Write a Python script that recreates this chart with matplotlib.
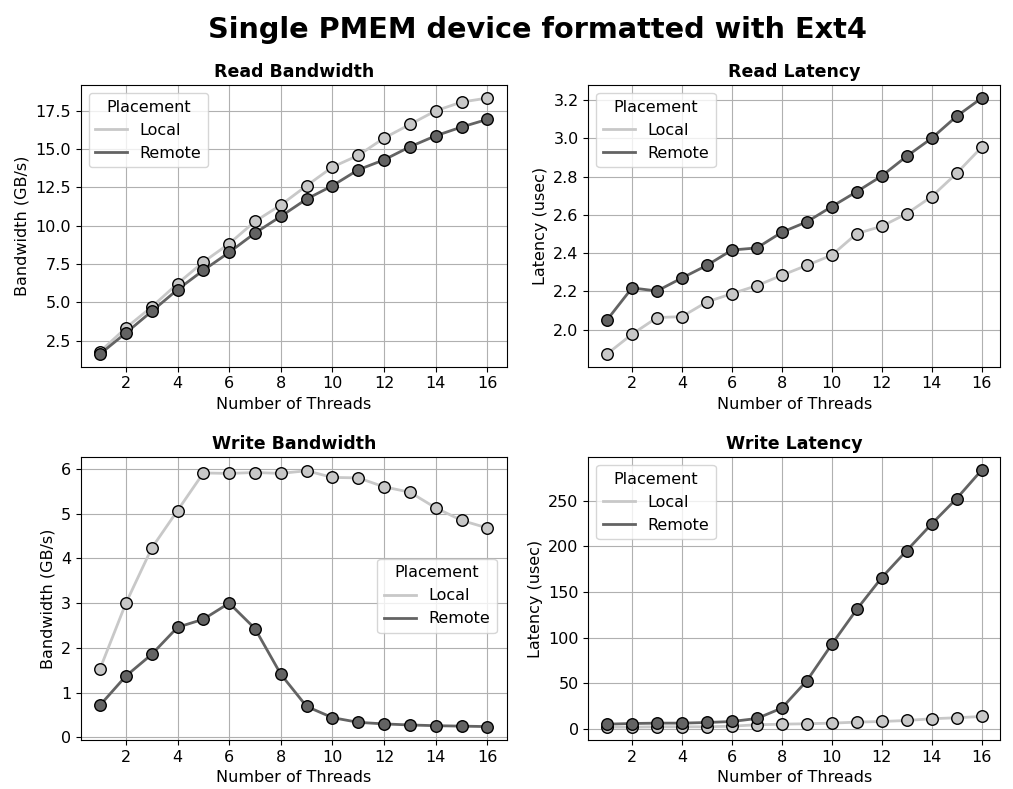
import matplotlib
matplotlib.use("Agg")
import matplotlib.pyplot as plt

threads = list(range(1, 17))

read_bw_local = [1.78, 3.33, 4.70, 6.22, 7.63, 8.83, 10.28, 11.35, 12.61, 13.83, 14.59, 15.72, 16.61, 17.50, 18.07, 18.33]
read_bw_remote = [1.63, 3.00, 4.41, 5.83, 7.09, 8.26, 9.52, 10.61, 11.74, 12.61, 13.65, 14.30, 15.15, 15.87, 16.44, 16.94]

read_lat_local = [1.873, 1.976, 2.063, 2.068, 2.145, 2.188, 2.230, 2.284, 2.336, 2.389, 2.502, 2.540, 2.606, 2.695, 2.817, 2.953]
read_lat_remote = [2.051, 2.218, 2.202, 2.270, 2.336, 2.416, 2.427, 2.509, 2.563, 2.643, 2.721, 2.803, 2.906, 3.000, 3.115, 3.210]

write_bw_local = [1.535, 3.00, 4.23, 5.07, 5.91, 5.90, 5.92, 5.90, 5.96, 5.81, 5.80, 5.60, 5.48, 5.13, 4.85, 4.68]
write_bw_remote = [0.72, 1.37, 1.855, 2.46, 2.64, 3.00, 2.43, 1.41, 0.69, 0.44, 0.335, 0.30, 0.276, 0.26, 0.25, 0.24]

write_lat_local = [1.8, 1.8, 2.2, 2.2, 2.2, 2.9, 4.4, 5.1, 5.5, 6.2, 7.3, 8.0, 9.1, 11.0, 12.1, 13.5]
write_lat_remote = [5.1, 5.8, 6.2, 6.2, 6.9, 8.0, 11.3, 22.7, 52.6, 92.5, 130.8, 165.6, 195.2, 224.4, 252.2, 283.3]

placements = ["Local", "Remote"]
colors = {"Local": "#c8c8c8", "Remote": "#636363"}

fig = plt.figure(figsize=(10.13, 7.89), dpi=100)
fig.suptitle("Single PMEM device formatted with Ext4", fontsize=20.7, fontweight="bold",
             x=0.531, y=0.98)

W1, W2 = 0.4205, 0.4067
L1, L2 = 0.0797, 0.5808
B1, B2 = 0.5352, 0.0621
H1, H2 = 0.3567, 0.3583

panels = [
    ([L1, B1, W1, H1], "Read Bandwidth", "Bandwidth (GB/s)", read_bw_local, read_bw_remote, "upper left", None),
    ([L2, B1, W2, H1], "Read Latency", "Latency (usec)", read_lat_local, read_lat_remote, "upper left", None),
    ([L1, B2, W1, H2], "Write Bandwidth", "Bandwidth (GB/s)", write_bw_local, write_bw_remote, "center right", (-0.06, 6.26)),
    ([L2, B2, W2, H2], "Write Latency", "Latency (usec)", write_lat_local, write_lat_remote, "upper left", None),
]

fs = 11.5
for rect, title, ylabel, loc_vals, rem_vals, legloc, ylim in panels:
    ax = fig.add_axes(rect)
    for name, vals in zip(placements, [loc_vals, rem_vals]):
        ax.plot(threads, vals, color=colors[name], lw=2, label=name)
    for name, vals in zip(placements, [loc_vals, rem_vals]):
        ax.plot(threads, vals, ls="none", marker="o", ms=8.3,
                markerfacecolor=colors[name], markeredgecolor="black", markeredgewidth=1)
    ax.set_title(title, fontweight="bold", fontsize=12.5)
    ax.set_xlabel("Number of Threads", fontsize=fs)
    ax.set_ylabel(ylabel, fontsize=fs)
    ax.set_xticks(range(2, 17, 2))
    ax.tick_params(labelsize=fs)
    ax.grid(True, color="#b0b0b0", lw=0.8)
    ax.set_axisbelow(True)
    if ylim is not None:
        ax.set_ylim(*ylim)
    if legloc == "center right":
        ax.legend(title="Placement", loc="center right", bbox_to_anchor=(0.995, 0.51), fontsize=fs, title_fontsize=fs)
    else:
        ax.legend(title="Placement", loc=legloc, fontsize=fs, title_fontsize=fs)

fig.savefig("out.png", dpi=100)
